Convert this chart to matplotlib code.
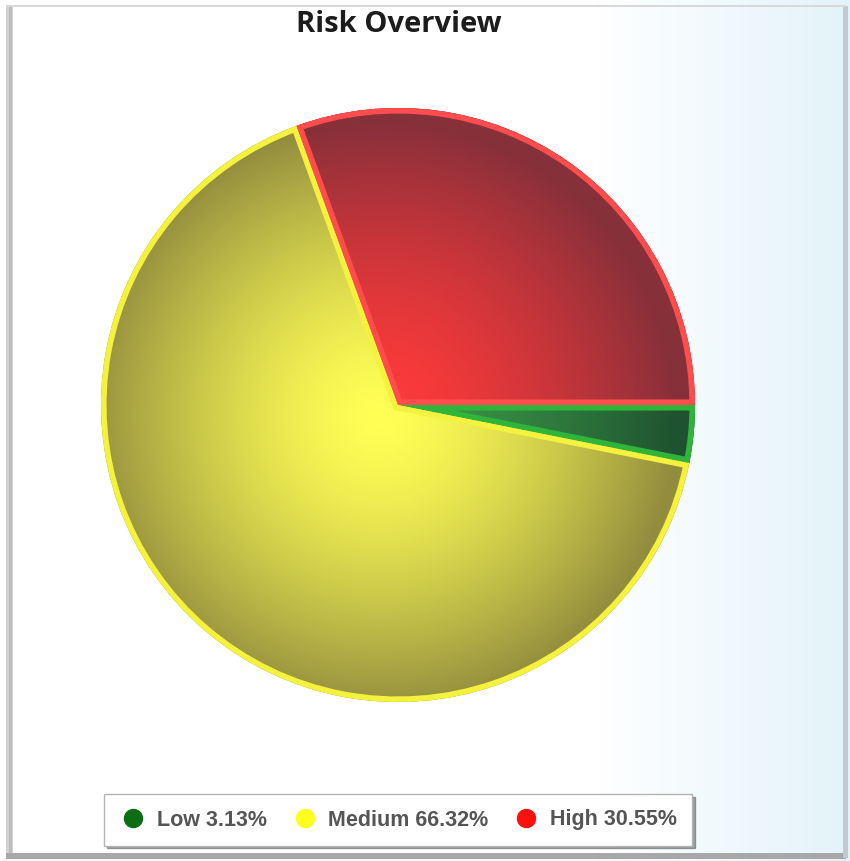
import numpy as np
import matplotlib
matplotlib.use("Agg")
import matplotlib.pyplot as plt
from matplotlib.patches import Wedge, Rectangle
from matplotlib.lines import Line2D
from matplotlib.colors import to_rgb

W, H = 850, 861

labels = ["Low", "Medium", "High"]
shares = [3.13, 66.32, 30.55]
legend_colors = ["#0b6e12", "#ffff1e", "#ff1010"]
light = ["#3c9a48", "#ffff55", "#ff3a3a"]
dark = ["#1f5230", "#928c3e", "#86303a"]
rim = ["#2fb53a", "#f4f23c", "#ff4c4c"]

fig = plt.figure(figsize=(W / 100, H / 100), dpi=100)
ax = fig.add_axes([0, 0, 1, 1])

# background panel: white fading into pale blue on the right
xs = np.linspace(0, 1, W)
t = np.clip((xs - 0.70) / 0.30, 0, 1)
c0 = np.array(to_rgb("#ffffff"))
c1 = np.array(to_rgb("#e3f3fa"))
bg = (c0[None, :] * (1 - t[:, None]) + c1[None, :] * t[:, None])[None, :, :]
ax.imshow(bg, extent=(0, W, 0, H), aspect="auto", zorder=0)

# frame edges
ax.add_patch(Rectangle((6, 3), 7, H - 9, color="#d2d2d2", lw=0, zorder=1))
ax.add_patch(Rectangle((9, 3), 3, H - 9, color="#bdbdbd", lw=0, zorder=1))
ax.add_patch(Rectangle((6, 2), W - 10, 6, color="#a8a8a8", lw=0, zorder=1))
ax.add_patch(Rectangle((843, 3), 5, H - 9, color="#bfcbd0", lw=0, zorder=1))
ax.add_patch(Rectangle((6, H - 7), W - 10, 2, color="#d8d8d8", lw=0, zorder=1))

cx, cy, R = 398, H - 405, 297
wedges, _ = ax.pie(shares, colors=light, startangle=0, counterclock=False,
                   center=(cx, cy), radius=R, wedgeprops=dict(linewidth=0, zorder=2))

# radial shading per slice
n = 400
gx, gy = np.meshgrid(np.linspace(-1, 1, n), np.linspace(-1, 1, n))
rr = np.clip(np.hypot(gx + 0.06, gy + 0.04), 0, 1) ** 1.5
for i, w in enumerate(wedges):
    a, b = np.array(to_rgb(light[i])), np.array(to_rgb(dark[i]))
    img = a[None, None, :] * (1 - rr[..., None]) + b[None, None, :] * rr[..., None]
    im = ax.imshow(img, extent=(cx - R, cx + R, cy - R, cy + R), origin="lower", zorder=3)
    im.set_clip_path(w)
    edge = Wedge(w.center, w.r, w.theta1, w.theta2, fill=False, ec=rim[i], lw=8, zorder=4)
    ax.add_patch(edge)
    edge.set_clip_path(w)

ax.set_xlim(0, W)
ax.set_ylim(0, H)
ax.axis("off")

ax.text(399, H - 24, "Risk Overview", ha="center", va="center", fontsize=21,
        fontweight="bold", family="Open Sans", color="#1c1c1c", zorder=5)

handles = [Line2D([], [], marker="o", ls="", markerfacecolor=c, markeredgecolor=c, markersize=13)
           for c in legend_colors]
texts = [f"{l} {v:.2f}%" for l, v in zip(labels, shares)]
leg = ax.legend(handles, texts, ncol=3, loc="center", bbox_to_anchor=(398 / W, 1 - 820 / H),
                bbox_transform=fig.transFigure, frameon=True, fancybox=False, shadow=True,
                prop=dict(family="Liberation Sans", weight="bold", size=15.5),
                labelcolor="#555555", handletextpad=0.45, columnspacing=1.1, borderpad=0.7,
                handlelength=1.3, edgecolor="#b4b4b4", framealpha=1)
leg.get_frame().set_linewidth(1.0)
leg.set_zorder(6)

fig.savefig("out.png", dpi=100)
